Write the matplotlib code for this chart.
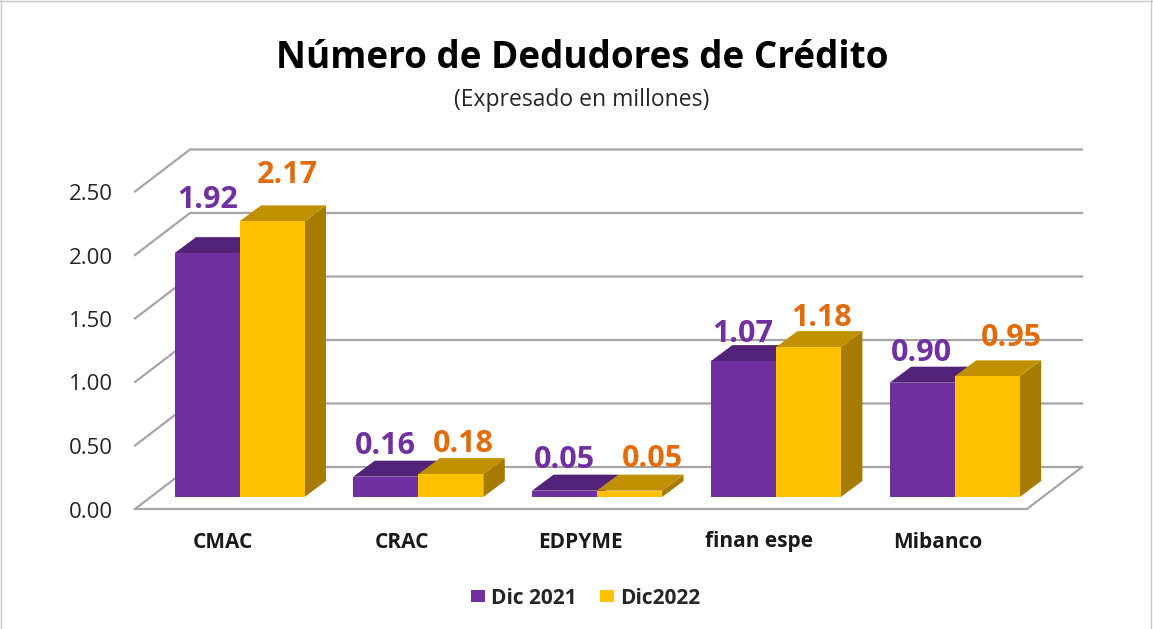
import matplotlib
matplotlib.use("Agg")
import matplotlib.pyplot as plt
from matplotlib.patches import Polygon, Rectangle

plt.rcParams['font.family'] = ['Open Sans', 'DejaVu Sans']

categories = ["CMAC", "CRAC", "EDPYME", "finan espe", "Mibanco"]
dic_2021 = [1.92, 0.16, 0.05, 1.07, 0.90]
dic_2022 = [2.17, 0.18, 0.05, 1.18, 0.95]
ticks = [0.0, 0.5, 1.0, 1.5, 2.0, 2.5]

W, H = 1153, 629
PX_PER_UNIT = 127.0
FLOOR_Y = 509
FLOOR_L, FLOOR_R = 135, 1027
DEPTH_X, DEPTH_Y = 55, 42
BAR_BASE = 497
BAR_W = 65
BAR_DX, BAR_DY = 21.5, 16
GROUP_X0, GROUP_STEP = 174.5, 178.8

# the labels are placed by hand in the original, so offsets from each bar top
label_dx_2021 = [33, 32, 32, 32, 32]
label_dy_2021 = [-53, -31, -31, -27, -30]
label_dx_2022 = [113, 110, 120, 111, 122]
label_dy_2022 = [-46, -30, -32, -29, -38]

fig = plt.figure(figsize=(W / 100, H / 100), dpi=100, facecolor="white")
ax = fig.add_axes([0, 0, 1, 1])
ax.set_xlim(0, W)
ax.set_ylim(H, 0)
ax.axis("off")

# outer chart frame
ax.plot([1, 1], [0, H], color="#c9c9c9", lw=1)
ax.plot([0, W], [1, 1], color="#c9c9c9", lw=1)
ax.plot([W - 2, W - 2], [0, H], color="#c9c9c9", lw=1)

grid_c = "#a6a6a6"
for t in ticks:
    y = FLOOR_Y - t * PX_PER_UNIT
    ax.plot([FLOOR_L, FLOOR_L + DEPTH_X, FLOOR_R + DEPTH_X],
            [y, y - DEPTH_Y, y - DEPTH_Y], color=grid_c, lw=1.6, zorder=1)
    ax.text(113, y + 3, f"{t:.2f}", ha="right", va="center", fontsize=16, color="#262626")
# floor front and right edge
ax.plot([FLOOR_L, FLOOR_R, FLOOR_R + DEPTH_X],
        [FLOOR_Y, FLOOR_Y, FLOOR_Y - DEPTH_Y], color=grid_c, lw=1.6, zorder=1)


def bar3d(x, value, front, top, side):
    y = BAR_BASE - value * PX_PER_UNIT
    ax.add_patch(Polygon([(x + BAR_W, BAR_BASE), (x + BAR_W + BAR_DX, BAR_BASE - BAR_DY),
                          (x + BAR_W + BAR_DX, y - BAR_DY), (x + BAR_W, y)],
                         facecolor=side, edgecolor="none", zorder=3))
    ax.add_patch(Polygon([(x, y), (x + BAR_DX, y - BAR_DY),
                          (x + BAR_W + BAR_DX, y - BAR_DY), (x + BAR_W, y)],
                         facecolor=top, edgecolor="none", zorder=3))
    ax.add_patch(Rectangle((x, y), BAR_W, value * PX_PER_UNIT,
                           facecolor=front, edgecolor="none", zorder=4))


for i, name in enumerate(categories):
    x = GROUP_X0 + i * GROUP_STEP
    bar3d(x, dic_2021[i], "#7030a0", "#522378", "#522378")
    bar3d(x + BAR_W, dic_2022[i], "#ffc000", "#bf9000", "#a67c00")
    ax.text(x + label_dx_2021[i], BAR_BASE - dic_2021[i] * PX_PER_UNIT + label_dy_2021[i],
            f"{dic_2021[i]:.2f}", ha="center", va="center", fontsize=22, fontweight="bold",
            color="#7030a0", zorder=5)
    ax.text(x + label_dx_2022[i], BAR_BASE - dic_2022[i] * PX_PER_UNIT + label_dy_2022[i],
            f"{dic_2022[i]:.2f}", ha="center", va="center", fontsize=22, fontweight="bold",
            color="#e36c0a", zorder=5)
    ax.text(x + 48.5, 542, name, ha="center", va="center", fontsize=15, fontweight="bold", color="#1a1a1a")

ax.text(582, 58, "Número de Dedudores de Crédito", ha="center", va="center",
        fontsize=26.6, fontweight="bold", color="black")
ax.text(582, 100, "(Expresado en millones)", ha="center", va="center", fontsize=16.5, color="#262626")

# legend
ax.add_patch(Rectangle((471, 590), 14, 12, facecolor="#7030a0", edgecolor="none"))
ax.text(491, 599, "Dic 2021", ha="left", va="center", fontsize=15, fontweight="bold", color="#262626")
ax.add_patch(Rectangle((600, 590), 14, 12, facecolor="#ffc000", edgecolor="none"))
ax.text(620, 599, "Dic2022", ha="left", va="center", fontsize=15, fontweight="bold", color="#262626")

plt.savefig("out.png", dpi=100)
